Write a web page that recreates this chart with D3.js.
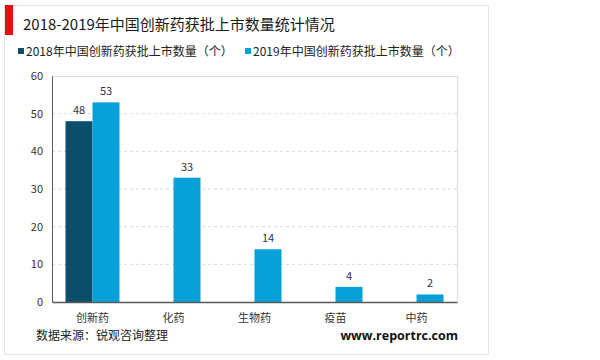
<!DOCTYPE html>
<html><head><meta charset="utf-8">
<script src="https://cdn.jsdelivr.net/npm/d3@7"></script>
<style>
html,body{margin:0;padding:0;background:#fff;}
svg text{font-family:"Noto Sans CJK SC","Microsoft YaHei",sans-serif;}
</style></head>
<body>
<svg id="c" width="600" height="360"></svg>
<script>
const title = "2018-2019年中国创新药获批上市数量统计情况";
const categories = ["创新药","化药","生物药","疫苗","中药"];
const seriesNames = ["2018年中国创新药获批上市数量（个）","2019年中国创新药获批上市数量（个）"];
const values2018 = [48, null, null, null, null];
const values2019 = [53, 33, 14, 4, 2];
const yTicks = [0,10,20,30,40,50,60];
const source = "数据来源：锐观咨询整理";
const site = "www.reportrc.com";

(function(){
const colors = ["#0b4d6b","#08a0d8"];
const svg = d3.select("#c");

// panel
svg.append("rect").attr("x",4.5).attr("y",5.5).attr("width",484).attr("height",349)
  .attr("fill","#fff").attr("stroke","#e3e3e3").attr("stroke-width",1);
svg.append("rect").attr("x",5).attr("y",5).attr("width",8).attr("height",30).attr("fill","#e8100f");
svg.append("text").attr("x",23).attr("y",30).attr("font-size",15).attr("fill","#1a1a1a").text(title);

// legend
const leg = [{x:18},{x:245}];
seriesNames.forEach((n,i)=>{
  svg.append("rect").attr("x",leg[i].x).attr("y",48).attr("width",6).attr("height",6).attr("fill",colors[i]);
  svg.append("text").attr("x",leg[i].x+8).attr("y",56).attr("font-size",12).attr("fill","#222").text(n);
});

const pL=52, pR=457, pT=76, pB=302;
const x = d3.scaleBand().domain(categories).range([pL,pR]);
const y = d3.scaleLinear().domain([0,60]).range([pB,pT]);
const bw = x.bandwidth()/3;

// grid
const g = svg.append("g");
yTicks.filter(t=>t>0 && t<60).forEach(t=>{
  g.append("line").attr("x1",pL).attr("x2",pR).attr("y1",y(t)).attr("y2",y(t))
   .attr("stroke","#d9d9d9").attr("stroke-dasharray","3,3");
});
g.append("line").attr("x1",pL).attr("x2",pR).attr("y1",y(60)+0.5).attr("y2",y(60)+0.5).attr("stroke","#dcdcdc");
g.append("line").attr("x1",pR+0.5).attr("x2",pR+0.5).attr("y1",y(60)).attr("y2",pB).attr("stroke","#dcdcdc");

// bars
const series = [values2018, values2019];
series.forEach((vals,si)=>{
  categories.forEach((c,ci)=>{
    const v = vals[ci];
    if(v==null) return;
    const bx = x(c) + x.bandwidth()/2 + (si===0 ? -bw : 0);
    svg.append("rect").attr("x",bx).attr("y",y(v)).attr("width",bw).attr("height",pB-y(v)).attr("fill",colors[si]);
    svg.append("text").attr("x",bx+bw/2).attr("y",y(v)-7).attr("text-anchor","middle")
      .attr("font-size",11).attr("fill","#333").text(v);
  });
});

// axes
const ya = svg.append("g").attr("transform",`translate(${pL},0)`)
  .call(d3.axisLeft(y).tickValues(yTicks).tickSize(0).tickPadding(9));
ya.select(".domain").attr("stroke","#595959");
ya.selectAll("text").attr("font-size",11).attr("fill","#333").style("font-family","'Noto Sans CJK SC',sans-serif");

const xa = svg.append("g").attr("transform",`translate(0,${pB})`)
  .call(d3.axisBottom(x).tickSize(0).tickPadding(12));
xa.select(".domain").attr("stroke","#595959").attr("stroke-width",1.5);
xa.selectAll("text").attr("font-size",11).attr("fill","#333").style("font-family","'Noto Sans CJK SC',sans-serif");

svg.append("text").attr("x",36).attr("y",340).attr("font-size",12).attr("fill","#222").text(source);
svg.append("text").attr("x",458).attr("y",340).attr("text-anchor","end").attr("font-size",12.5)
  .attr("font-weight","bold").attr("fill","#111").style("font-family","'Open Sans','DejaVu Sans',sans-serif").text(site);
})();
</script>
</body></html>
